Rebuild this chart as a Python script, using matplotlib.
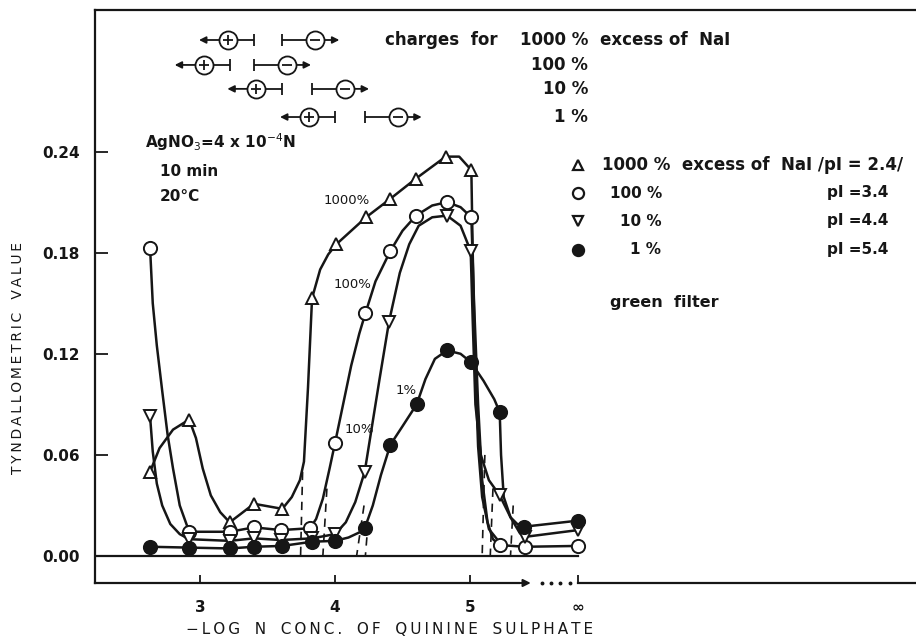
#!/usr/bin/env python3

import matplotlib
matplotlib.use('Agg')
import matplotlib.pyplot as plt
from matplotlib.transforms import blended_transform_factory

W, H = 916, 638
INK = '#161616'
plt.rcParams['font.family'] = ['DejaVu Sans']

# -log N conc. of quinine sulphate, "infinity" is drawn at 5.8 on the axis.
x_ticks = [3, 4, 5, 5.8]
x_tick_labels = ['3', '4', '5', '\u221e']
y_ticks = [0.0, 0.06, 0.12, 0.18, 0.24]
y_tick_labels = ['0.00', '0.06', '0.12', '0.18', '0.24']

# 1000 % excess of NaI (open triangles).
x_1000 = [2.63, 2.92, 3.22, 3.40, 3.61, 3.83, 4.01, 4.23, 4.41, 4.60, 4.82, 5.01]
y_1000 = [0.050, 0.081, 0.020, 0.031, 0.028, 0.153, 0.185, 0.201, 0.212, 0.224, 0.237, 0.229]
# Hand drawn curve.
cx_1000 = [2.63, 2.70, 2.80, 2.92, 2.97, 3.02, 3.08, 3.15, 3.22, 3.40, 3.61, 3.68, 3.74, 3.77,
           3.80, 3.83, 3.89, 3.95, 4.01, 4.23, 4.41, 4.60, 4.82, 4.92, 5.01, 5.02, 5.04, 5.06,
           5.09, 5.14, 5.22]
cy_1000 = [0.050, 0.064, 0.075, 0.081, 0.070, 0.052, 0.036, 0.026, 0.020, 0.031, 0.028, 0.035,
           0.045, 0.056, 0.100, 0.153, 0.170, 0.179, 0.185, 0.201, 0.212, 0.224, 0.237, 0.237,
           0.229, 0.180, 0.110, 0.065, 0.035, 0.016, 0.008]

# 100 % (open circles).
x_100 = [2.63, 2.92, 3.22, 3.40, 3.60, 3.815, 4.00, 4.225, 4.41, 4.60, 4.83, 5.01, 5.22, 5.41, 5.80]
y_100 = [0.183, 0.0144, 0.0144, 0.017, 0.0154, 0.0165, 0.067, 0.144, 0.181, 0.202, 0.210, 0.201,
         0.0065, 0.0055, 0.006]
cx_100 = [2.63, 2.65, 2.68, 2.72, 2.76, 2.80, 2.85, 2.92, 3.22, 3.40, 3.60, 3.815, 3.86, 3.91,
          3.96, 4.00, 4.06, 4.12, 4.18, 4.225, 4.30, 4.41, 4.50, 4.60, 4.72, 4.83, 4.93, 5.01,
          5.03, 5.06, 5.09, 5.13, 5.17, 5.22, 5.41, 5.80]
cy_100 = [0.183, 0.150, 0.125, 0.098, 0.072, 0.052, 0.030, 0.0144, 0.0144, 0.017, 0.0154, 0.0165,
          0.022, 0.034, 0.052, 0.067, 0.090, 0.113, 0.132, 0.144, 0.163, 0.181, 0.193, 0.202,
          0.208, 0.210, 0.207, 0.201, 0.150, 0.090, 0.045, 0.020, 0.010, 0.0065, 0.0055, 0.006]

# 10 % (open inverted triangles).
x_10 = [2.63, 2.92, 3.22, 3.40, 3.60, 3.83, 4.00, 4.22, 4.40, 4.83, 5.005, 5.22, 5.41, 5.80]
y_10 = [0.083, 0.010, 0.009, 0.0105, 0.0095, 0.0105, 0.013, 0.050, 0.139, 0.202, 0.181, 0.036,
        0.0114, 0.0154]
cx_10 = [2.63, 2.65, 2.68, 2.72, 2.78, 2.85, 2.92, 3.22, 3.40, 3.60, 3.83, 4.00, 4.08, 4.15,
         4.22, 4.27, 4.33, 4.40, 4.48, 4.55, 4.62, 4.72, 4.83, 4.93, 5.005, 5.02, 5.04, 5.08,
         5.14, 5.22, 5.30, 5.37, 5.41, 5.80]
cy_10 = [0.083, 0.062, 0.043, 0.030, 0.019, 0.013, 0.010, 0.009, 0.0105, 0.0095, 0.0105, 0.013,
         0.020, 0.032, 0.050, 0.075, 0.105, 0.139, 0.168, 0.185, 0.196, 0.201, 0.202, 0.196,
         0.181, 0.140, 0.090, 0.060, 0.045, 0.036, 0.023, 0.0135, 0.0114, 0.0154]

# 1 % (filled circles).
x_1 = [2.63, 2.92, 3.22, 3.40, 3.61, 3.83, 4.00, 4.22, 4.41, 4.605, 4.83, 5.007, 5.22, 5.40, 5.80]
y_1 = [0.0055, 0.005, 0.0045, 0.0055, 0.006, 0.0085, 0.009, 0.0164, 0.066, 0.090, 0.122, 0.115,
       0.0854, 0.0174, 0.021]
cx_1 = [2.63, 2.92, 3.22, 3.40, 3.61, 3.83, 4.00, 4.10, 4.18, 4.22, 4.28, 4.34, 4.41, 4.50,
        4.605, 4.67, 4.74, 4.83, 4.93, 5.007, 5.10, 5.18, 5.22, 5.23, 5.25, 5.30, 5.35, 5.40, 5.80]
cy_1 = [0.0055, 0.005, 0.0045, 0.0055, 0.006, 0.0085, 0.009, 0.011, 0.014, 0.0164, 0.030, 0.048,
        0.066, 0.077, 0.090, 0.105, 0.117, 0.122, 0.120, 0.115, 0.104, 0.093, 0.0854, 0.060,
        0.035, 0.023, 0.019, 0.0174, 0.021]

# Dashed extrapolations of the steep flanks down to the zero line.
dash_x = [(3.76, 3.745), (3.94, 3.91), (4.215, 4.16), (4.245, 4.225), (5.11, 5.09), (5.17, 5.15),
          (5.32, 5.30)]
dash_y = [(0.050, 0.0), (0.040, 0.0), (0.030, 0.0), (0.020, 0.0), (0.060, 0.0), (0.040, 0.0),
          (0.030, 0.0)]

# Sign of the charge: positive up to x_plus, negative from x_minus (rows 1000, 100, 10, 1 %).
charge_rows = ['1000 %', '100 %', '10 %', '1 %']
x_plus = [3.40, 3.22, 3.61, 4.00]
x_minus = [3.61, 3.40, 3.83, 4.22]
pI_values = ['2.4', '3.4', '4.4', '5.4']


def px(x, y):
    '''Pixel position of the reference to figure fraction.'''
    return x / W, 1 - y / H


def draw_charge(ax, y, xp, xm):
    '''
    Draws  <-(+)-|   |-(-)->  at height y.
    @Args:
        xp: end of positive range (bar).
        xm: start of negative range (bar).
    '''
    d = 1 / 135.0
    bar = 0.0036
    kw = dict(color=INK, lw=1.3, solid_capstyle='butt', zorder=6, clip_on=False)
    arrow = dict(arrowstyle='-|>', color=INK, lw=1.3, mutation_scale=10, shrinkA=0, shrinkB=0)
    # Positive part.
    cp = xp - 26 * d
    ax.plot([cp, xp], [y, y], **kw)
    ax.plot([xp, xp], [y - bar, y + bar], **kw)
    ax.annotate('', xy=(xp - 55 * d, y), xytext=(cp, y), arrowprops=arrow, zorder=6,
                annotation_clip=False)
    ax.plot(cp, y, 'o', ms=13, mfc='white', mec=INK, mew=1.3, zorder=7, clip_on=False)
    ax.plot(cp, y, '+', ms=7.5, mec=INK, mew=1.3, zorder=8, clip_on=False)
    # Negative part.
    cm = xm + 33 * d
    ax.plot([xm, cm], [y, y], **kw)
    ax.plot([xm, xm], [y - bar, y + bar], **kw)
    ax.annotate('', xy=(xm + 57 * d, y), xytext=(cm, y), arrowprops=arrow, zorder=6,
                annotation_clip=False)
    ax.plot(cm, y, 'o', ms=13, mfc='white', mec=INK, mew=1.3, zorder=7, clip_on=False)
    ax.plot(cm, y, '_', ms=7.5, mec=INK, mew=1.3, zorder=8, clip_on=False)


fig = plt.figure(figsize=(W / 100, H / 100), dpi=100)
ax = fig.add_axes([95 / W, 1 - 583 / H, 821 / W, 573 / H])
xmin, xmax = 2.2222, 8.3037
ax.set_xlim(xmin, xmax)
ax.set_ylim(-0.0160, 0.3240)

# Curves and their points.
series = [
    (cx_1000, cy_1000, x_1000, y_1000, '^', 'white', 8.5),
    (cx_100, cy_100, x_100, y_100, 'o', 'white', 9.5),
    (cx_10, cy_10, x_10, y_10, 'v', 'white', 8.5),
    (cx_1, cy_1, x_1, y_1, 'o', INK, 9.5),
]
for cx, cy, mx, my, mk, fc, ms in series:
    ax.plot(cx, cy, color=INK, lw=1.8, zorder=3)
    ax.plot(mx, my, mk, ms=ms, mfc=fc, mec=INK, mew=1.4, ls='none', zorder=4)

for dx, dy in zip(dash_x, dash_y):
    ax.plot(dx, dy, color=INK, lw=1.2, ls=(0, (5, 4)), zorder=2)

# Zero line up to "infinity".
ax.plot([xmin, x_ticks[-1]], [0, 0], color=INK, lw=1.6, zorder=2)

# Curve labels.
lab = dict(fontsize=9.5, color=INK, ha='center', va='center')
ax.text(4.09, 0.211, '1000%', **lab)
ax.text(4.13, 0.161, '100%', **lab)
ax.text(4.18, 0.0748, '10%', **lab)
ax.text(4.53, 0.0985, '1%', **lab)

# Axes: left and top frame, bottom axis with arrow, dots and infinity.
for side in ['right', 'bottom']:
    ax.spines[side].set_visible(False)
for side in ['left', 'top']:
    ax.spines[side].set_linewidth(1.6)
    ax.spines[side].set_color(INK)

trans = blended_transform_factory(ax.transData, ax.transAxes)
ax.plot([xmin, 5.36], [0, 0], color=INK, lw=1.6, transform=trans, clip_on=False)
ax.annotate('', xy=(5.45, 0), xytext=(5.30, 0), xycoords=trans, textcoords=trans,
            arrowprops=dict(arrowstyle='-|>', color=INK, lw=1.4, mutation_scale=11,
                            shrinkA=0, shrinkB=0))
ax.plot([5.53, 5.60, 5.67, 5.74], [0, 0, 0, 0], 'o', ms=1.8, color=INK, transform=trans,
        clip_on=False)
ax.plot([x_ticks[-1], xmax], [0, 0], color=INK, lw=1.6, transform=trans, clip_on=False)

ax.set_xticks(x_ticks)
ax.set_xticklabels(x_tick_labels, fontsize=11, fontweight='bold', color=INK)
ax.set_yticks(y_ticks)
ax.set_yticklabels(y_tick_labels, fontsize=11, fontweight='bold', color=INK)
ax.tick_params(axis='x', direction='in', length=6, width=1.3, pad=12, colors=INK)
ax.tick_params(axis='y', direction='in', length=9, width=1.3, pad=11, colors=INK)


def spaced(text):
    '''Letter spaced capitals like on the original drawing.'''
    return '   '.join('\u2009'.join(word) for word in text.split())


fig.text(*px(390, 630), spaced('\u2212LOG N CONC. OF QUININE SULPHATE'), fontsize=11,
         color=INK, ha='center', va='center')
fig.text(*px(18, 358), spaced('TYNDALLOMETRIC VALUE'), fontsize=10, color=INK,
         ha='center', va='center', rotation=90)

# Charge diagrams in the top left.
row_y = [0.3062, 0.2914, 0.2772, 0.2605]
row_px = [40, 65, 89, 117]
for y, yp, xp, xm, name in zip(row_y, row_px, x_plus, x_minus, charge_rows):
    draw_charge(ax, y, xp, xm)
    fig.text(*px(588, yp), name, fontsize=12, fontweight='bold', color=INK,
             ha='right', va='center')
fig.text(*px(385, 40), 'charges  for', fontsize=12, fontweight='bold', color=INK, va='center')
fig.text(*px(600, 40), 'excess of  NaI', fontsize=12, fontweight='bold', color=INK,
         va='center')

# Conditions.
fig.text(*px(145, 142), r'AgNO$_3$=4 x 10$^{-4}$N', fontsize=11, fontweight='bold', color=INK,
         va='center')
fig.text(*px(160, 171), '10 min', fontsize=11, fontweight='bold', color=INK, va='center')
fig.text(*px(160, 196), '20\u00b0C', fontsize=11, fontweight='bold', color=INK, va='center')

# Key on the right.
key_y = [165, 193, 221, 250]
key_marks = [('^', 'white', 7), ('o', 'white', 8), ('v', 'white', 7), ('o', INK, 8)]
key_text_x = [602, 610, 620, 630]
for i, (yp, (mk, fc, ms)) in enumerate(zip(key_y, key_marks)):
    fx, fy = px(578, yp)
    ax.plot([fx], [fy], mk, ms=ms, mfc=fc, mec=INK, mew=1.6, transform=fig.transFigure,
            clip_on=False)
    if i == 0:
        label = charge_rows[0] + '  excess of  NaI /pI = ' + pI_values[0] + '/'
        size = 12
    else:
        label = charge_rows[i]
        size = 11
        fig.text(*px(827, yp), 'pI =' + pI_values[i], fontsize=11, fontweight='bold',
                 color=INK, va='center')
    fig.text(*px(key_text_x[i], yp), label, fontsize=size, fontweight='bold', color=INK,
             va='center')
fig.text(*px(610, 303), 'green  filter', fontsize=11.5, fontweight='bold', color=INK,
         va='center')

plt.savefig('out.png', dpi=100)
plt.close(fig)
